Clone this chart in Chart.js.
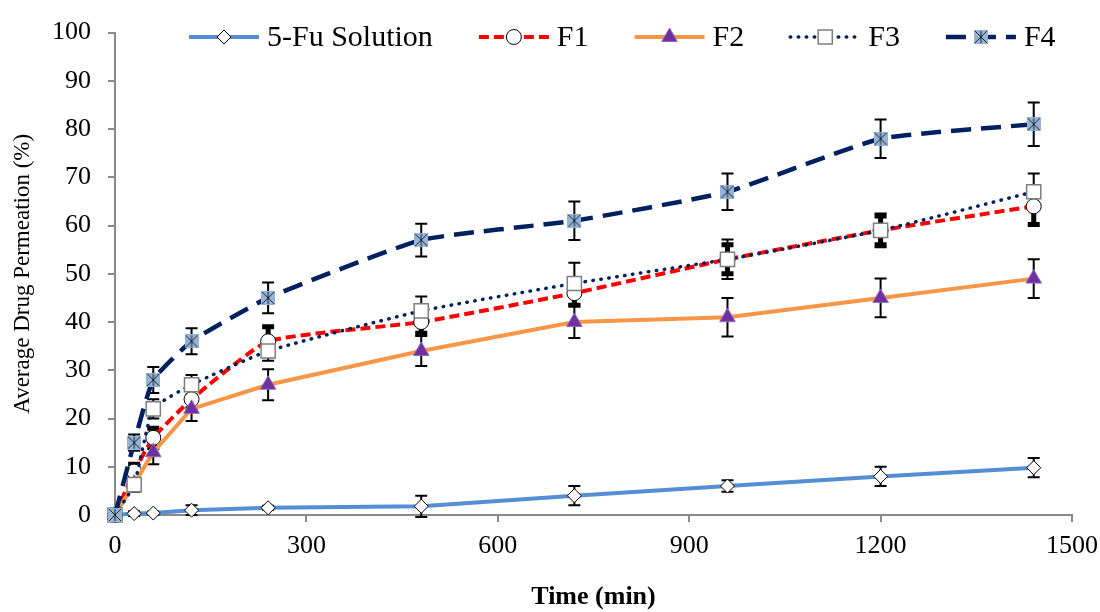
<!DOCTYPE html>
<html>
<head>
<meta charset="utf-8">
<script src="https://cdn.jsdelivr.net/npm/chart.js@4"></script>
<style>
  body { margin: 0; background: #fff; }
</style>
</head>
<body>
<canvas id="chart" width="1100" height="612"></canvas>
<script>
// sampling times (min)
var times = [0, 30, 60, 120, 240, 480, 720, 960, 1200, 1440];

var seriesNames = ["5-Fu Solution", "F1", "F2", "F3", "F4"];

// average drug permeation (%)
var fuSolution = [0, 0.3, 0.4, 1, 1.5, 1.8, 4, 6, 8, 9.8];
var f1 = [0, 9, 16, 24, 36, 40, 46, 53, 59, 64];
var f2 = [0, 6.5, 13, 22, 27, 34, 40, 41, 45, 49];
var f3 = [0, 6.3, 22, 27, 34, 42.3, 48, 53, 59, 67];
var f4 = [0, 15, 28, 36, 45, 57, 61, 67, 78, 81];

// error bars (+/-)
var fuSolutionErr = [0, 0.5, 0.3, 1, 0.4, 2.2, 2, 1.2, 2, 2];
var f1Err = [0, 1.5, 2, 2, 3, 2.3, 2.5, 3, 3, 3.8];
var f2Err = [0, 1.5, 2.5, 2.5, 3.2, 3.1, 3.3, 4, 4, 4];
var f3Err = [0, 1.5, 2, 2, 2, 3, 4.3, 4.1, 3.5, 3.8];
var f4Err = [0, 1.7, 2.7, 2.7, 3.2, 3.4, 4, 3.8, 4, 4.5];

var xTicks = [0, 300, 600, 900, 1200, 1500];

var serif = "'Liberation Serif', 'Times New Roman', serif";
Chart.defaults.font.family = serif;
Chart.defaults.color = "#000";

function makePoints(vals) {
  return times.map(function (t, i) { return { x: t, y: vals[i] }; });
}

// Excel style "star" marker: blue square with an x and a vertical stroke
function starMarker(size) {
  var c = document.createElement("canvas");
  c.width = size;
  c.height = size;
  var g = c.getContext("2d");
  g.fillStyle = "#95B3D7";
  g.fillRect(0, 0, size, size);
  g.strokeStyle = "#000";
  g.lineWidth = 0.8;
  g.beginPath();
  g.moveTo(1, 1); g.lineTo(size - 1, size - 1);
  g.moveTo(size - 1, 1); g.lineTo(1, size - 1);
  g.moveTo(size / 2, 1); g.lineTo(size / 2, size - 1);
  g.stroke();
  return c;
}

var errorBarPlugin = {
  id: "errorBars",
  beforeDatasetsDraw: function (chart) {
    var ctx = chart.ctx;
    var yScale = chart.scales.y;
    ctx.save();
    ctx.strokeStyle = "#000";
    chart.data.datasets.forEach(function (ds, i) {
      var meta = chart.getDatasetMeta(i);
      meta.data.forEach(function (pt, j) {
        var e = ds.errors[j];
        if (!e) return;
        var v = ds.data[j].y;
        var top = yScale.getPixelForValue(v + e);
        var bottom = yScale.getPixelForValue(v - e);
        ctx.lineWidth = ds.errorLineWidth;
        ctx.beginPath();
        ctx.moveTo(pt.x, top); ctx.lineTo(pt.x, bottom);
        ctx.moveTo(pt.x - 6, top); ctx.lineTo(pt.x + 6, top);
        ctx.moveTo(pt.x - 6, bottom); ctx.lineTo(pt.x + 6, bottom);
        ctx.stroke();
      });
    });
    ctx.restore();
  }
};

// legend with line + marker samples, drawn over the top of the plot like Excel does
var legendPlugin = {
  id: "sampleLegend",
  afterDraw: function (chart) {
    var ctx = chart.ctx;
    var x = 189, y = 37;
    ctx.save();
    ctx.font = "30px " + serif;
    ctx.textBaseline = "middle";
    chart.data.datasets.forEach(function (ds) {
      ctx.save();
      ctx.strokeStyle = ds.borderColor;
      ctx.lineWidth = ds.borderWidth;
      ctx.setLineDash(ds.borderDash || []);
      ctx.lineCap = ds.borderCapStyle || "butt";
      ctx.beginPath();
      ctx.moveTo(x, y);
      ctx.lineTo(x + 70, y);
      ctx.stroke();
      ctx.setLineDash([]);
      ctx.fillStyle = ds.pointBackgroundColor;
      ctx.strokeStyle = ds.pointBorderColor;
      ctx.lineWidth = ds.pointBorderWidth;
      Chart.helpers.drawPoint(ctx, {
        pointStyle: ds.pointStyle, radius: ds.pointRadius, rotation: 0, borderWidth: ds.pointBorderWidth
      }, x + 35, y);
      ctx.restore();
      ctx.fillStyle = "#000";
      ctx.fillText(ds.label, x + 78, y + 1);
      x += 78 + ctx.measureText(ds.label).width + 46;
    });
    ctx.restore();
  }
};

var datasets = [
  {
    label: seriesNames[0], data: makePoints(fuSolution), errors: fuSolutionErr, errorLineWidth: 2,
    borderColor: "#558ED5", borderWidth: 4, tension: 0,
    pointStyle: "rectRot", pointRadius: 7, pointBackgroundColor: "#fff",
    pointBorderColor: "#000", pointBorderWidth: 1, order: 4
  },
  {
    label: seriesNames[1], data: makePoints(f1), errors: f1Err, errorLineWidth: 5,
    borderColor: "#FF0000", borderWidth: 4, borderDash: [10, 5], tension: 0.15,
    pointStyle: "circle", pointRadius: 7.5, pointBackgroundColor: "#fff",
    pointBorderColor: "#000", pointBorderWidth: 1, order: 3
  },
  {
    label: seriesNames[2], data: makePoints(f2), errors: f2Err, errorLineWidth: 2,
    borderColor: "#F79646", borderWidth: 4, tension: 0,
    pointStyle: "triangle", pointRadius: 9, pointBackgroundColor: "#7030A0",
    pointBorderColor: "#8E6BBF", pointBorderWidth: 1, order: 2
  },
  {
    label: seriesNames[3], data: makePoints(f3), errors: f3Err, errorLineWidth: 2,
    borderColor: "#002060", borderWidth: 3.5, borderDash: [0.5, 7.5], borderCapStyle: "round", tension: 0.15,
    pointStyle: "rect", pointRadius: 10, pointBackgroundColor: "#fff",
    pointBorderColor: "#7F7F7F", pointBorderWidth: 1.5, order: 1
  },
  {
    label: seriesNames[4], data: makePoints(f4), errors: f4Err, errorLineWidth: 2,
    borderColor: "#002060", borderWidth: 4.5, borderDash: [20, 10], tension: 0.15,
    pointStyle: starMarker(14), pointRadius: 8, pointBackgroundColor: "#95B3D7",
    pointBorderColor: "#000", pointBorderWidth: 0, order: 0
  }
];

datasets.forEach(function (ds) {
  ds.clip = false;
  ds.fill = false;
  ds.backgroundColor = ds.borderColor;
});

var myChart = new Chart(document.getElementById("chart"), {
  type: "line",
  data: { datasets: datasets },
  plugins: [errorBarPlugin, legendPlugin],
  options: {
    responsive: false,
    animation: false,
    devicePixelRatio: 1,
    layout: { padding: { top: 30, right: 28, left: 0, bottom: 0 } },
    plugins: {
      legend: { display: false },
      tooltip: { enabled: false }
    },
    scales: {
      x: {
        type: "linear",
        min: xTicks[0],
        max: xTicks[xTicks.length - 1],
        afterBuildTicks: function (scale) {
          scale.ticks = xTicks.map(function (v) { return { value: v }; });
        },
        ticks: {
          font: { size: 26 }, padding: 9, color: "#000", maxRotation: 0,
          callback: function (v) { return String(v); }
        },
        grid: { drawOnChartArea: false, drawTicks: true, tickLength: 7, color: "#898989", lineWidth: 2 },
        border: { display: true, color: "#898989", width: 2 },
        title: {
          display: true, text: "Time (min)",
          font: { size: 26, weight: "bold", lineHeight: 1 },
          padding: { top: 0, bottom: 2 }
        },
        afterFit: function (scale) {
          scale.height = 97;
          scale.paddingRight = 0;
        }
      },
      y: {
        min: 0,
        max: 100,
        ticks: { stepSize: 10, font: { size: 26 }, padding: 17, color: "#000" },
        grid: { drawOnChartArea: false, drawTicks: true, tickLength: 7, color: "#898989", lineWidth: 2 },
        border: { display: true, color: "#898989", width: 2 },
        title: {
          display: true, text: "Average Drug Permeation (%)",
          font: { size: 23 }, padding: { top: 9, bottom: 0 }
        },
        afterFit: function (scale) { scale.width = 115; }
      }
    }
  }
});
</script>
</body>
</html>
